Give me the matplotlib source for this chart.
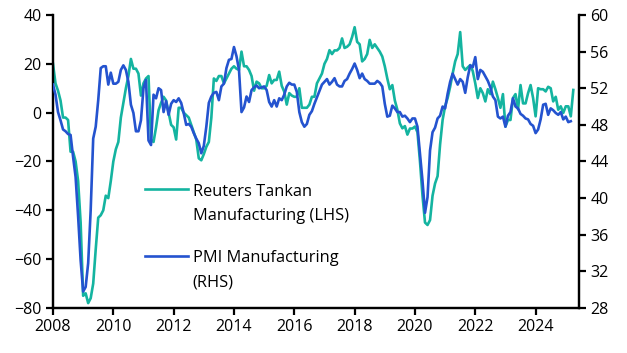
import numpy as np
import matplotlib
matplotlib.use("Agg")
import matplotlib.pyplot as plt
from matplotlib.legend_handler import HandlerLine2D

plt.rcParams['font.family'] = ['Open Sans', 'DejaVu Sans']

# Monthly data starting Jan 2008
start_year = 2008
tankan = [
    # 2008
    20, 12, 9, 5, -2, -2, -3, -16, -16, -20, -28, -45,
    # 2009
    -75, -74, -78, -76, -70, -56, -43, -42, -40, -34, -35, -28,
    # 2010
    -20, -15, -12, -2, 4, 10, 15, 22, 18, 18, 16, 7,
    # 2011
    12, 14, 15, -11, -12, -6, 1, 4, 6.5, 5, 0, -5,
    # 2012
    -6, -11, 2, 2, 0, -1, -2, -5, -8, -11, -18.7, -19.5,
    # 2013
    -17, -14, -12, -2, 14, 13, 15, 15, 12, 14, 16, 18,
    # 2014
    19, 18, 17.5, 25, 19, 19, 17.5, 15, 9, 12.7, 12, 10,
    # 2015
    10, 11, 15.4, 12, 13.4, 13.4, 16.8, 11, 8.6, 3.3, 8, 7,
    # 2016
    6.5, 6.5, 10, 2, 2, 2, 3.3, 6.5, 6.5, 12, 14, 16,
    # 2017
    20, 22, 25.6, 24, 25.5, 25.5, 26.5, 30.4, 26.5, 27, 28, 31,
    # 2018
    35, 29, 28, 21, 22, 24, 29.8, 26.5, 28, 26.5, 25, 23,
    # 2019
    19, 14, 9.6, 11.3, 5, 1.2, -4.4, -6.4, -5.5, -9, -6.5, -6.5,
    # 2020
    -5.7, -8, -20, -34, -45, -46, -44, -34, -29, -26, -13, -3,
    # 2021
    2.7, 6, 10.6, 16, 21, 24, 33, 19, 17.5, 18.5, 19.5, 17,
    # 2022
    12, 6, 10, 8, 4.6, 9.6, 7.6, 12.7, 9.6, 6, 2, 7.6,
    # 2023
    -5.7, -3, -3, 6, 7.6, 1.4, 11.3, 3.8, 3.8, 8, 11.3, 6,
    # 2024
    -1.5, 10, 9.6, 9.6, 8.7, 10.6, 10, 4.6, 6.5, 1.2, 2.6, -0.1,
    # 2025
    2.6, 2.6, -1.5, 9.3,
]
pmi = [
    # 2008
    52.4, 51.3, 49.4, 48.5, 47.5, 47.3, 47.0, 46.9, 44.5, 42.3, 38.0, 33.2,
    # 2009
    29.8, 30.3, 32.9, 38.7, 46.5, 47.8, 50.7, 54.2, 54.4, 54.4, 52.4, 53.7,
    # 2010
    52.5, 52.5, 52.7, 54.0, 54.5, 54.0, 52.7, 50.2, 49.3, 47.3, 47.3, 48.5,
    # 2011
    52.0, 52.9, 46.3, 45.8, 51.3, 50.9, 52.0, 51.8, 49.4, 50.6, 49.1, 50.3,
    # 2012
    50.7, 50.5, 50.9, 50.4, 49.3, 48.0, 48.1, 47.8, 47.1, 46.5, 46.0, 44.9,
    # 2013
    45.7, 47.8, 50.4, 51.1, 51.5, 51.6, 50.7, 52.2, 52.5, 54.2, 55.1, 55.2,
    # 2014
    56.5, 55.5, 54.0, 49.4, 49.9, 51.1, 50.5, 51.8, 52.1, 52.3, 52.0, 52.1,
    # 2015
    52.2, 51.8, 50.5, 50.0, 50.7, 50.0, 50.9, 50.7, 51.3, 52.2, 52.6, 52.4,
    # 2016
    52.4, 51.6, 49.4, 48.3, 47.8, 48.1, 49.1, 49.5, 50.3, 51.0, 51.7, 52.4,
    # 2017
    52.7, 53.0, 52.4, 52.7, 53.1, 52.4, 52.2, 52.2, 52.8, 53.0, 53.6, 54.1,
    # 2018
    54.7, 54.0, 53.1, 53.6, 53.0, 52.8, 52.5, 52.5, 52.5, 52.8, 52.6, 52.2,
    # 2019
    50.3, 48.9, 49.0, 50.1, 49.8, 49.4, 49.4, 48.9, 49.0, 48.7, 48.3, 48.7,
    # 2020
    48.7, 47.8, 44.8, 41.9, 38.4, 40.1, 45.2, 47.2, 47.7, 48.7, 49.0, 50.0,
    # 2021
    49.8, 51.4, 52.7, 53.6, 53.0, 52.4, 53.0, 52.7, 51.5, 53.2, 54.5, 54.3,
    # 2022
    55.4, 53.0, 54.0, 53.8, 53.3, 52.8, 52.1, 51.1, 50.7, 48.9, 48.7, 48.9,
    # 2023
    47.8, 49.0, 49.4, 50.9, 50.0, 49.8, 49.2, 49.0, 48.7, 48.6, 48.1, 47.9,
    # 2024
    47.1, 47.5, 48.6, 50.2, 50.3, 49.1, 49.8, 49.6, 49.3, 49.1, 49.4, 48.6,
    # 2025
    48.9, 48.3, 48.4,
]
labels = ["Reuters Tankan\nManufacturing (LHS)", "PMI Manufacturing\n(RHS)"]
colors = ["#14B4A0", "#2453CF"]
xticks = list(range(2008, 2025, 2))
left_ticks = list(range(-80, 41, 20))
right_ticks = list(range(28, 61, 4))


class FirstLineHandler(HandlerLine2D):
    """Align the legend line with the first line of a two-line label."""
    def __init__(self, shift, **kw):
        super().__init__(**kw)
        self.shift = shift

    def create_artists(self, legend, orig_handle, xdescent, ydescent,
                       width, height, fontsize, trans):
        return super().create_artists(legend, orig_handle, xdescent,
                                      ydescent - 2 * self.shift, width,
                                      height, fontsize, trans)


x_t = start_year + np.arange(len(tankan)) / 12.0
x_p = start_year + np.arange(len(pmi)) / 12.0

fig = plt.figure(figsize=(6.27, 3.53), dpi=100)
ax = fig.add_axes([0.0845, 0.1275, 0.8395, 0.83])
ax2 = ax.twinx()

l1, = ax.plot(x_t, tankan, color=colors[0], lw=1.9, zorder=2)
l2, = ax2.plot(x_p, pmi, color=colors[1], lw=1.9, zorder=3)

ax.set_xlim(2008, 2025.45)
ax.set_ylim(-80, 40)
ax2.set_ylim(28, 60)
ax.set_xticks(xticks)
ax.set_yticks(left_ticks)
ax2.set_yticks(right_ticks)

for a in (ax, ax2):
    a.spines['top'].set_visible(False)
    for s in ('left', 'right', 'bottom'):
        a.spines[s].set_linewidth(1.6)
        a.spines[s].set_color('black')
    a.tick_params(axis='both', direction='out', length=5, width=1.6,
                  labelsize=11.5, colors='black', pad=3)

ax.patch.set_visible(False)

fs = 11.8
handler = FirstLineHandler(shift=10.5)
leg = ax2.legend([l1, l2], labels, loc='upper left',
                 bbox_to_anchor=(0.163, 0.447), frameon=False,
                 fontsize=fs, handlelength=2.6, handletextpad=0.3,
                 labelspacing=1.6, borderaxespad=0,
                 handler_map={l1: handler, l2: handler})
for t in leg.get_texts():
    t.set_linespacing(1.7)

fig.savefig("out.png", dpi=100)
